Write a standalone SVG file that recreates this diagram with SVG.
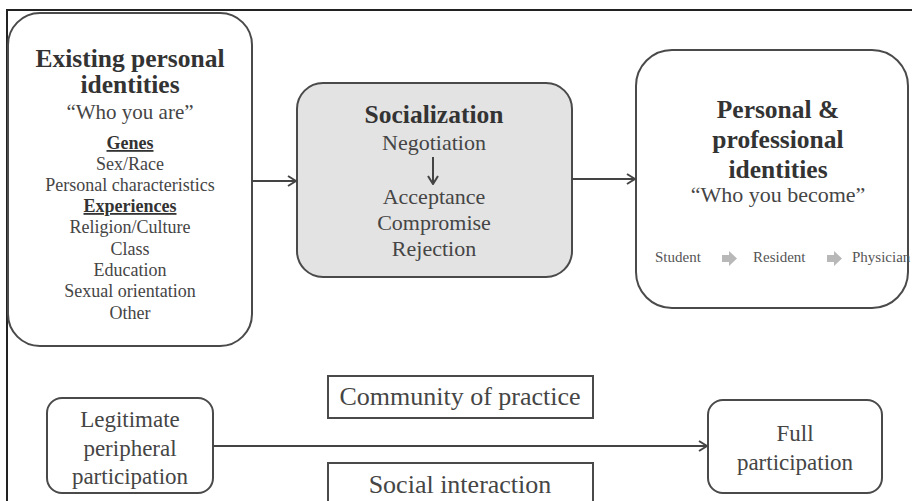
<svg xmlns="http://www.w3.org/2000/svg" width="912" height="501" viewBox="0 0 912 501">
<style>
  text { font-family: "Liberation Serif", "Times New Roman", serif; fill: #454545; text-anchor: middle; }
  .t { font-weight: bold; font-size: 25.5px; fill: #333; }
  .q { font-size: 21px; }
  .s { font-size: 18px; }
  .h { font-size: 18px; font-weight: bold; text-decoration: underline; fill: #333; }
  .m { font-size: 22px; }
  .l { font-size: 23px; }
  .b { font-size: 26px; }
  .r { font-size: 15px; fill: #555; text-anchor: start; }
  .box { fill: #fff; stroke: #4a4a4a; stroke-width: 2; }
  .conn { fill: none; stroke: #444; stroke-width: 2; }
  .frame { fill: none; stroke: #222; stroke-width: 2; }
  .blk { fill: #b8b8b8; }
</style>
<defs>
  <marker id="chev" viewBox="0 0 10 12" refX="9" refY="6" markerWidth="10" markerHeight="12" markerUnits="userSpaceOnUse" orient="auto">
    <path d="M1,1 L9,6 L1,11" fill="none" stroke="#444" stroke-width="2"/>
  </marker>
</defs>
<path class="frame" d="M7,501 V10 H912"/>

<g id="existing">
  <rect class="box" x="8" y="13" width="244" height="333" rx="32" ry="32"/>
  <text class="t" x="130" y="67">Existing personal</text>
  <text class="t" x="130" y="93">identities</text>
  <text class="q" x="130" y="119">“Who you are”</text>
  <text class="h" x="130" y="149">Genes</text>
  <text class="s" x="130" y="170">Sex/Race</text>
  <text class="s" x="130" y="191">Personal characteristics</text>
  <text class="h" x="130" y="212">Experiences</text>
  <text class="s" x="130" y="233">Religion/Culture</text>
  <text class="s" x="130" y="255">Class</text>
  <text class="s" x="130" y="276">Education</text>
  <text class="s" x="130" y="297">Sexual orientation</text>
  <text class="s" x="130" y="319">Other</text>
</g>

<g id="socialization">
  <rect class="box" x="297" y="83" width="275" height="194" rx="26" ry="26" style="fill:#e3e3e3"/>
  <text class="t" x="434" y="123">Socialization</text>
  <text class="m" x="434" y="150">Negotiation</text>
  <line class="conn" x1="433" y1="157" x2="433" y2="184" marker-end="url(#chev)"/>
  <text class="m" x="434" y="204">Acceptance</text>
  <text class="m" x="434" y="230">Compromise</text>
  <text class="m" x="434" y="256">Rejection</text>
</g>

<g id="professional">
  <rect class="box" x="636" y="50" width="272" height="258" rx="36" ry="36"/>
  <text class="t" x="778" y="118">Personal &amp;</text>
  <text class="t" x="778" y="148">professional</text>
  <text class="t" x="778" y="178">identities</text>
  <text class="m" x="778" y="202">“Who you become”</text>
  <text class="r" x="655" y="262">Student</text>
  <polygon class="blk" points="722,255 729,255 729,251 737,258.5 729,266 729,262 722,262"/>
  <text class="r" x="753" y="262">Resident</text>
  <polygon class="blk" points="827,255 834,255 834,251 842,258.5 834,266 834,262 827,262"/>
  <text class="r" x="852" y="262">Physician</text>
</g>

<g id="legitimate">
  <rect class="box" x="47" y="398" width="166" height="95" rx="15" ry="15"/>
  <text class="l" x="130" y="427">Legitimate</text>
  <text class="l" x="130" y="456">peripheral</text>
  <text class="l" x="130" y="484">participation</text>
</g>

<g id="community">
  <rect class="box" x="328" y="376" width="265" height="42"/>
  <text class="b" x="460" y="405">Community of practice</text>
</g>

<g id="social">
  <rect class="box" x="328" y="463" width="265" height="50"/>
  <text class="b" x="460" y="493">Social interaction</text>
</g>

<g id="full">
  <rect class="box" x="708" y="400" width="174" height="93" rx="15" ry="15"/>
  <text class="l" x="795" y="441">Full</text>
  <text class="l" x="795" y="470">participation</text>
</g>

<g id="connectors">
  <line class="conn" x1="252" y1="181" x2="296" y2="181" marker-end="url(#chev)"/>
  <line class="conn" x1="572" y1="179" x2="635" y2="179" marker-end="url(#chev)"/>
  <line class="conn" x1="213" y1="446" x2="707" y2="446" marker-end="url(#chev)"/>
</g>
</svg>
